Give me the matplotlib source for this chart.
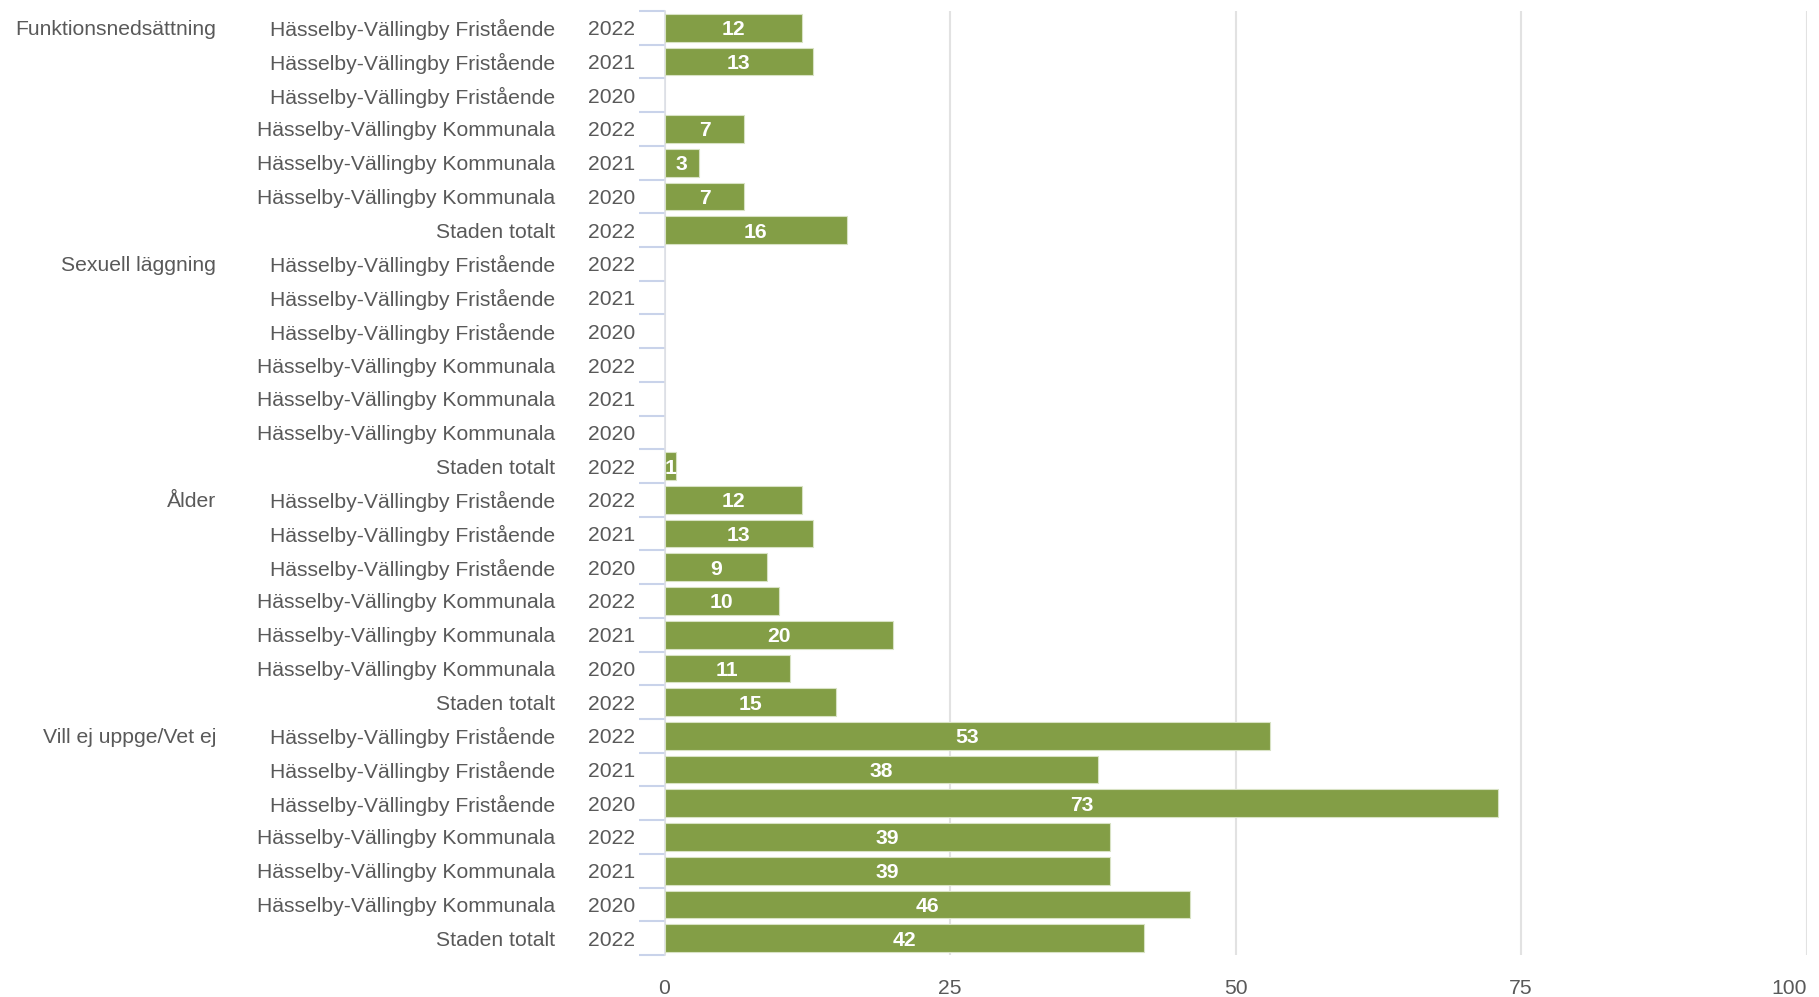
import numpy as np
import matplotlib.pyplot as plt

plt.rcParams['font.family'] = ['Liberation Sans', 'DejaVu Sans']

groups = ['Funktionsnedsättning', 'Sexuell läggning', 'Ålder', 'Vill ej uppge/Vet ej']
units = ['Hässelby-Vällingby Fristående'] * 3 + ['Hässelby-Vällingby Kommunala'] * 3 + ['Staden totalt']
years = ['2022', '2021', '2020', '2022', '2021', '2020', '2022']

funktion = [12, 13, np.nan, 7, 3, 7, 16]
sexuell = [np.nan, np.nan, np.nan, np.nan, np.nan, np.nan, 1]
alder = [12, 13, 9, 10, 20, 11, 15]
vill_ej = [53, 38, 73, 39, 39, 46, 42]

values = np.array(funktion + sexuell + alder + vill_ej, dtype=float)
n = len(values)
rows = np.arange(n)

W, H = 1819, 997
fig = plt.figure(figsize=(W / 100, H / 100), dpi=100)
ax = fig.add_axes([664.5 / W, 42 / H, 1142 / W, 944 / H])

text_col = '#595959'
bar_col = '#839E46'
fs = 15.2

ax.barh(rows, values, height=0.82, color=bar_col, edgecolor='#d8e2c4',
        linewidth=0.8, zorder=3)

for y, v in zip(rows, values):
    if not np.isnan(v):
        ax.text(v / 2, y, f'{v:.0f}', ha='center', va='center_baseline', color='white',
                fontsize=fs, fontweight='bold', zorder=4)

ax.set_xlim(0, 100)
ax.set_ylim(n - 0.5, -0.5)
ax.set_xticks([0, 25, 50, 75, 100])
ax.tick_params(axis='x', length=0, labelsize=fs, labelcolor=text_col, pad=17)
ax.get_xticklabels()[-1].set_horizontalalignment('right')
ax.grid(axis='x', color='#e2e2e2', linewidth=1.5, zorder=0)

# boundary ticks between categories, labels drawn separately
ax.set_yticks(np.arange(n + 1) - 0.5)
ax.set_yticklabels([])
ax.tick_params(axis='y', length=19, width=1.5, color='#c9d3ea', direction='out')

for side in ['top', 'right', 'bottom']:
    ax.spines[side].set_visible(False)
ax.spines['left'].set_color('#dcdfe6')
ax.spines['left'].set_linewidth(1.2)

labels = [(groups[i // 7] if i % 7 == 0 else '', units[i % 7], years[i % 7]) for i in range(n)]
for i, (g, u, yr) in enumerate(labels):
    if g:
        ax.annotate(g, xy=(216 / W, i), xycoords=('figure fraction', 'data'),
                    ha='right', va='center_baseline', fontsize=fs, color=text_col)
    ax.annotate(u, xy=(555 / W, i), xycoords=('figure fraction', 'data'),
                ha='right', va='center_baseline', fontsize=fs, color=text_col)
    ax.annotate(yr, xy=(635 / W, i), xycoords=('figure fraction', 'data'),
                ha='right', va='center_baseline', fontsize=fs, color=text_col)

fig.savefig('out.png', dpi=100)
